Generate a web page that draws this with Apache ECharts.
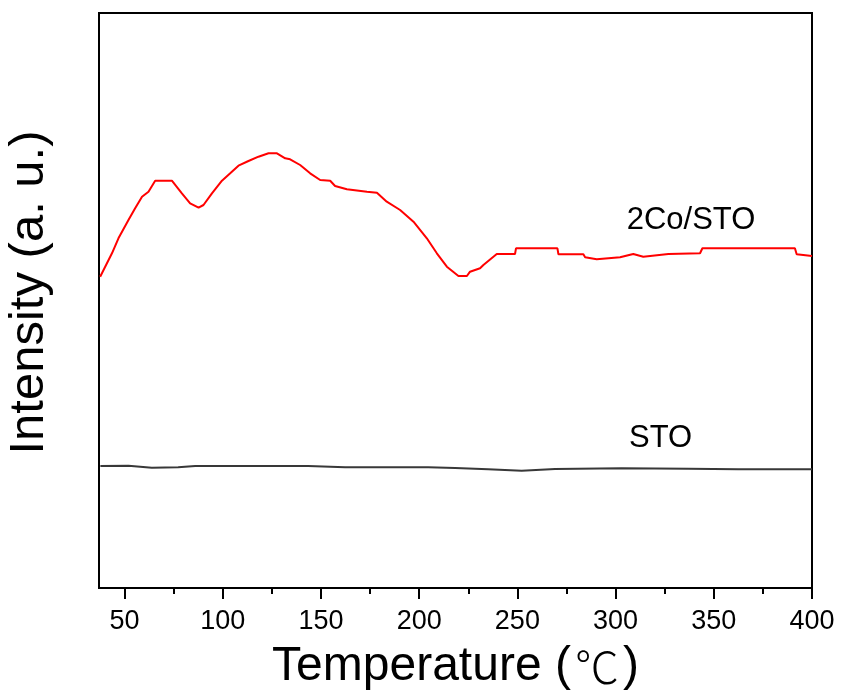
<!DOCTYPE html>
<html>
<head>
<meta charset="utf-8">
<title>TPD profiles</title>
<script src="https://cdn.jsdelivr.net/npm/echarts@6/dist/echarts.min.js"></script>
<style>
  html, body { margin: 0; padding: 0; background: #ffffff; }
  #chart { width: 841px; height: 695px; }
</style>
</head>
<body>
<div id="chart"></div>
<script>
// Temperature (°C) and intensity (arbitrary units) for each sample
const coTemp = [37.6, 43.6, 46.9, 52.0, 55.4, 58.9, 62.2, 65.6, 74.1, 79.2, 83.4, 87.7, 90.2, 94.5,
  99.6, 103.8, 108.0, 113.1, 118.2, 123.3, 127.6, 131.8, 134.3, 139.4, 144.5, 149.6, 154.7, 157.2,
  163.2, 173.4, 178.5, 183.5, 190.3, 197.1, 203.9, 209.0, 214.1, 220.0, 224.3, 225.9, 231.0, 232.7,
  239.5, 248.8, 249.3, 270.4, 270.9, 283.6, 284.5, 290.4, 302.3, 309.0, 314.1, 326.9, 343.0, 344.2,
  378.6, 391.3, 392.2, 400.0];
const coIntensity = [311.3, 334.7, 349.7, 368.0, 379.7, 391.3, 396.3, 407.3, 407.3, 394.7, 384.7, 380.3, 383.0, 394.7,
  407.3, 414.7, 422.3, 427.0, 431.3, 434.7, 434.7, 429.7, 428.7, 423.0, 414.7, 408.0, 407.3, 402.0,
  398.7, 396.3, 395.3, 386.3, 378.0, 366.3, 349.7, 334.7, 321.3, 312.0, 312.0, 316.3, 319.7, 323.0,
  334.0, 334.0, 339.7, 339.7, 333.7, 333.7, 330.7, 328.7, 330.7, 334.0, 331.3, 334.0, 334.7, 339.7,
  339.7, 339.7, 333.7, 332.0];

const stoTemp = [37.7, 52.0, 63.9, 77.3, 86.0, 116.5, 143.5, 162.3, 204.6, 218.3, 235.1, 252.2,
  269.2, 303.1, 336.9, 362.4, 400.0];
const stoIntensity = [122.0, 122.3, 120.3, 120.7, 122.0, 122.0, 122.0, 120.7, 120.7, 120.0, 118.7, 117.3,
  119.0, 119.7, 119.3, 118.7, 118.7];

const majorTicks = [50, 100, 150, 200, 250, 300, 350, 400];
const minorTicks = [75, 125, 175, 225, 275, 325, 375];

const seriesNames = ['2Co/STO', 'STO'];
const labelAnchors = [[338.4, 368], [322.9, 150]];

const pair = (xs, ys) => xs.map((x, i) => [x, ys[i]]);

const chart = echarts.init(document.getElementById('chart'), null, { renderer: 'canvas' });

const FONT = 'Liberation Sans, Arial, sans-serif';

const annotation = (anchor, text) => ({
  data: [{
    coord: anchor,
    symbol: 'circle',
    symbolSize: 0,
    label: {
      show: true,
      position: 'inside',
      formatter: text,
      color: '#000',
      fontSize: 31,
      fontFamily: FONT
    }
  }],
  animation: false,
  silent: true
});

chart.setOption({
  animation: false,
  backgroundColor: '#ffffff',
  grid: {
    left: 99, right: 29, top: 13, bottom: 107,
    outerBoundsMode: 'none',
    containLabel: false,
    show: true,
    borderColor: '#000',
    borderWidth: 2,
    backgroundColor: 'transparent'
  },
  xAxis: [
    {
      type: 'value',
      min: 37, max: 400,
      name: '{t|Temperature (}{c|\u2103}{t|)}',
      nameLocation: 'middle',
      nameGap: 55,
      nameTextStyle: {
        color: '#000',
        rich: {
          t: { fontSize: 48, fontFamily: FONT, color: '#000' },
          c: { fontSize: 44, fontFamily: 'Noto Sans CJK SC', fontWeight: 300, color: '#000', padding: [0, 4, 0, 4] }
        }
      },
      axisLine: { show: true, lineStyle: { color: '#000', width: 2 } },
      axisTick: { show: true, customValues: majorTicks, length: 11, lineStyle: { color: '#000', width: 2 } },
      axisLabel: { show: true, customValues: majorTicks, fontSize: 27, color: '#000', fontFamily: FONT, margin: 20 },
      splitLine: { show: false }
    },
    {
      type: 'value',
      min: 37, max: 400,
      position: 'bottom',
      axisLine: { show: false },
      axisTick: { show: true, customValues: minorTicks, length: 6, lineStyle: { color: '#000', width: 2 } },
      axisLabel: { show: false },
      splitLine: { show: false }
    }
  ],
  yAxis: {
    type: 'value',
    min: 0, max: 575,
    name: 'Intensity (a. u.)',
    nameLocation: 'middle',
    nameGap: 45,
    nameTextStyle: { fontSize: 49, color: '#000', fontFamily: FONT, padding: [0, 0, 0, 16] },
    axisLine: { show: false },
    axisTick: { show: false },
    axisLabel: { show: false },
    splitLine: { show: false }
  },
  series: [
    {
      name: seriesNames[0],
      type: 'line',
      data: pair(coTemp, coIntensity),
      showSymbol: false,
      lineStyle: { color: '#ff0000', width: 2 },
      itemStyle: { color: '#ff0000' },
      markPoint: annotation(labelAnchors[0], seriesNames[0])
    },
    {
      name: seriesNames[1],
      type: 'line',
      data: pair(stoTemp, stoIntensity),
      showSymbol: false,
      lineStyle: { color: '#383838', width: 2 },
      itemStyle: { color: '#383838' },
      markPoint: annotation(labelAnchors[1], seriesNames[1])
    }
  ]
});
</script>
</body>
</html>
